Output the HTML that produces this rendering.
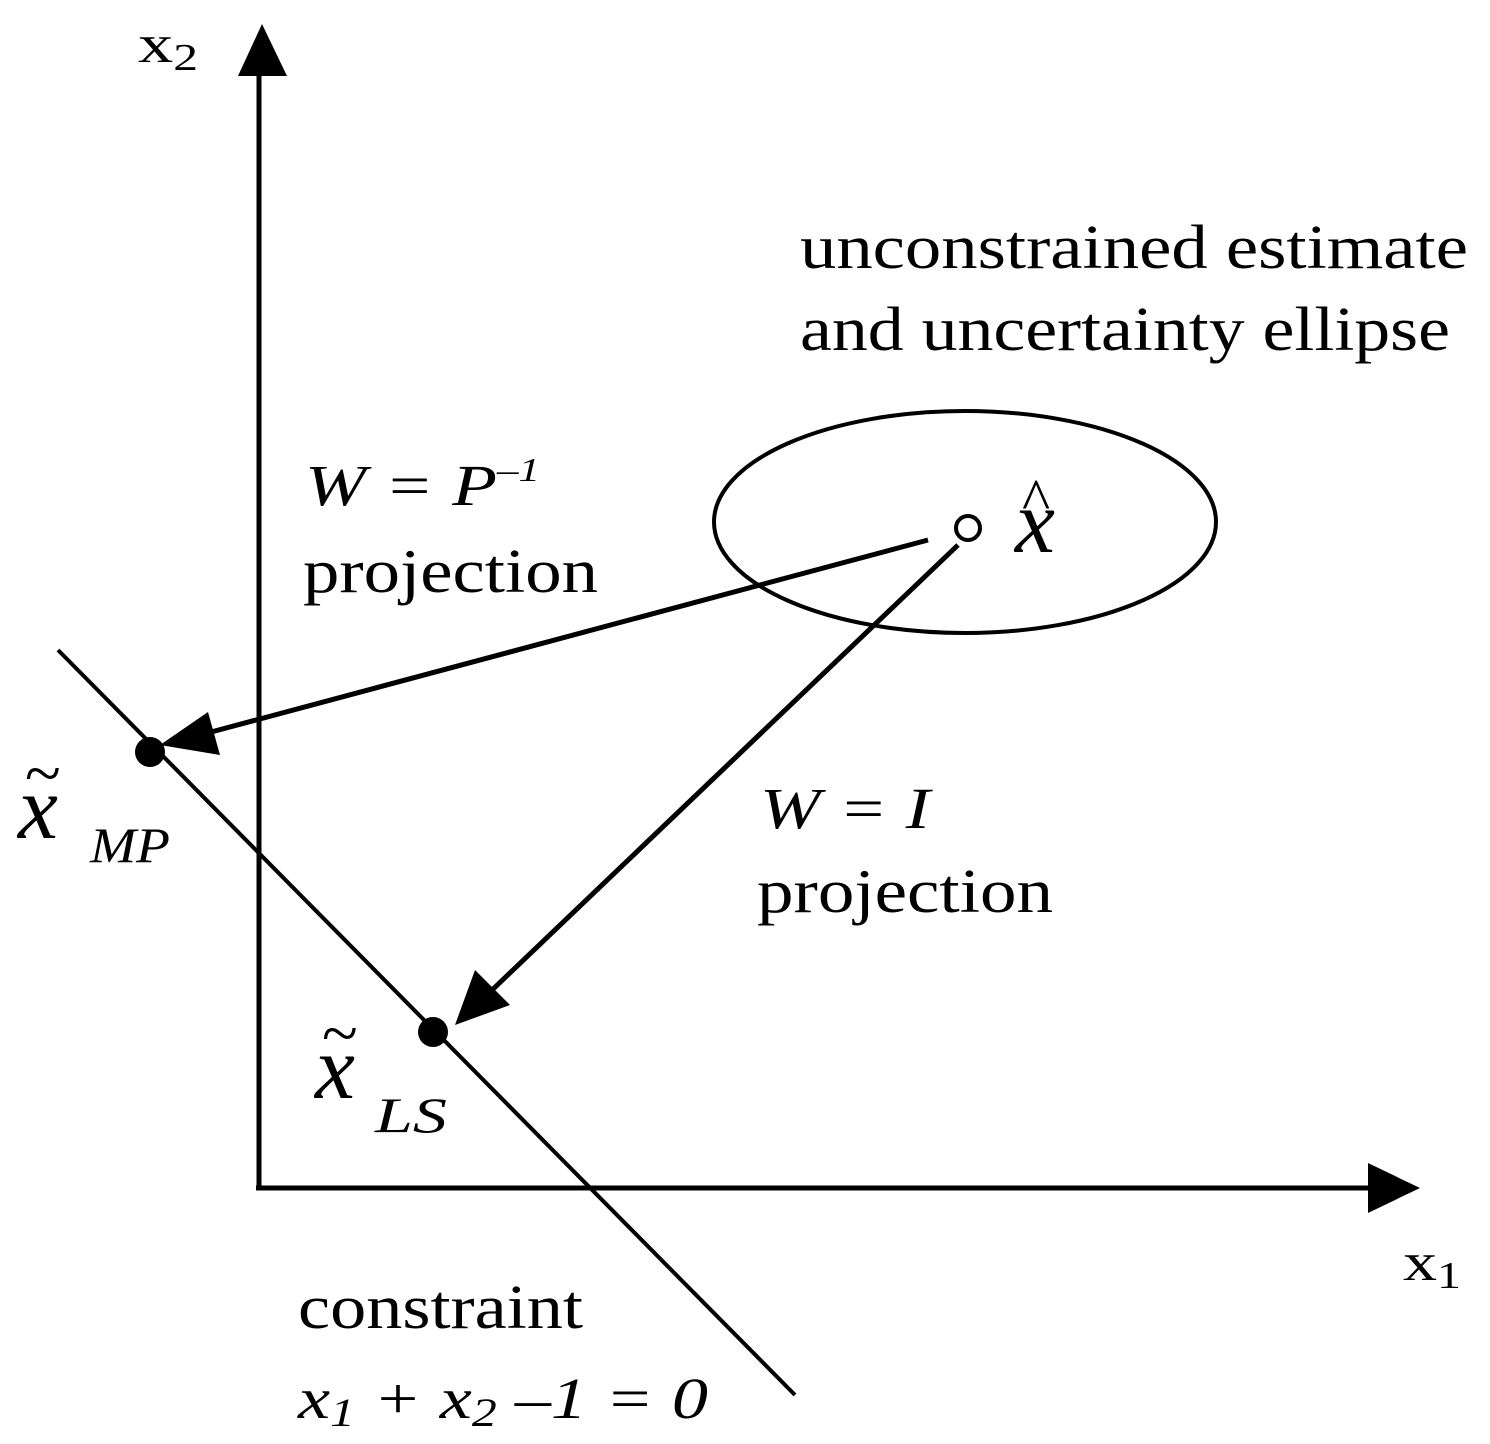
<!DOCTYPE html>
<html><head><meta charset="utf-8"><style>
html,body{margin:0;padding:0;background:#fff;}
svg{display:block;}
text{font-family:"Liberation Serif",serif;fill:#000;}
</style></head><body>
<svg width="1490" height="1444" viewBox="0 0 1490 1444" xmlns="http://www.w3.org/2000/svg">
<line x1="259" y1="1190" x2="259" y2="70" stroke="#000" stroke-width="5"/>
<polygon points="262,24 238,76 287,76" fill="#000"/>
<line x1="256" y1="1188" x2="1375" y2="1188" stroke="#000" stroke-width="5"/>
<polygon points="1420,1188 1368,1163 1368,1213" fill="#000"/>
<text x="138" y="62" font-size="54" textLength="60" lengthAdjust="spacingAndGlyphs">x<tspan font-size="38" dy="8">2</tspan></text>
<text x="1403" y="1280" font-size="54" textLength="58" lengthAdjust="spacingAndGlyphs">x<tspan font-size="38" dy="8">1</tspan></text>
<line x1="58" y1="650" x2="795" y2="1395" stroke="#000" stroke-width="4"/>
<ellipse cx="965" cy="522" rx="251" ry="111" fill="none" stroke="#000" stroke-width="4"/>
<circle cx="968" cy="528" r="12" fill="#fff" stroke="#000" stroke-width="4"/>
<line x1="928" y1="540" x2="200" y2="735" stroke="#000" stroke-width="5"/>
<polygon points="160,745 208,712 220,755" fill="#000"/>
<line x1="958" y1="545" x2="490" y2="992" stroke="#000" stroke-width="5"/>
<polygon points="455,1025 475,970 510,1005" fill="#000"/>
<circle cx="150" cy="752" r="15" fill="#000"/>
<circle cx="433" cy="1032" r="15" fill="#000"/>
<text x="800" y="268" font-size="62" textLength="668" lengthAdjust="spacingAndGlyphs">unconstrained estimate</text>
<text x="800" y="350" font-size="62" textLength="650" lengthAdjust="spacingAndGlyphs">and uncertainty ellipse</text>
<text x="305" y="505" font-size="58" font-style="italic" textLength="235" lengthAdjust="spacingAndGlyphs">W = P<tspan font-size="34" dy="-24">–1</tspan></text>
<text x="303" y="592" font-size="62" textLength="295" lengthAdjust="spacingAndGlyphs">projection</text>
<text x="760" y="828" font-size="58" font-style="italic" textLength="170" lengthAdjust="spacingAndGlyphs">W = I</text>
<text x="757" y="912" font-size="62" textLength="296" lengthAdjust="spacingAndGlyphs">projection</text>
<text x="1015" y="552" font-size="90" font-style="italic">x</text>
<text x="1022" y="520" font-size="60">^</text>
<text x="18" y="838" font-size="90" font-style="italic">x</text>
<text x="25" y="795" font-size="66">~</text>
<text x="90" y="862" font-size="50" font-style="italic" textLength="80" lengthAdjust="spacingAndGlyphs">MP</text>
<text x="315" y="1098" font-size="90" font-style="italic">x</text>
<text x="322" y="1055" font-size="66">~</text>
<text x="375" y="1132" font-size="50" font-style="italic" textLength="72" lengthAdjust="spacingAndGlyphs">LS</text>
<text x="298" y="1328" font-size="62" textLength="285" lengthAdjust="spacingAndGlyphs">constraint</text>
<text x="298" y="1418" font-size="58" font-style="italic" textLength="410" lengthAdjust="spacingAndGlyphs">x<tspan font-size="40" dy="8">1</tspan><tspan dy="-8"> + x</tspan><tspan font-size="40" dy="8">2</tspan><tspan dy="-8"> –1 = 0</tspan></text>
</svg>
</body></html>
